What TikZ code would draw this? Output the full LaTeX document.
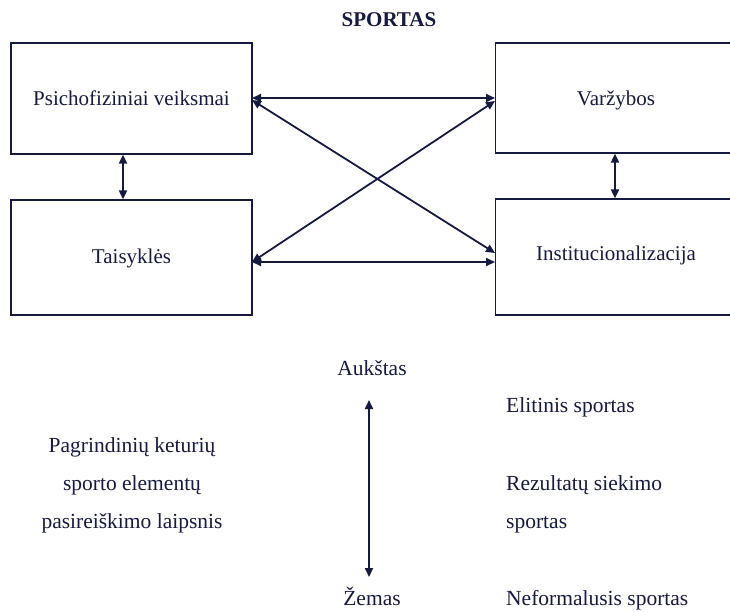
\documentclass[tikz,border=0pt]{standalone}
\usepackage{fontspec}
\IfFontExistsTF{LiberationSerif-Regular.ttf}
  {\setmainfont{LiberationSerif}[Extension=.ttf,UprightFont=*-Regular,BoldFont=*-Bold,ItalicFont=*-Italic,BoldItalicFont=*-BoldItalic]}
  {\setmainfont{Liberation Serif}}
\usetikzlibrary{arrows.meta}
\definecolor{ink}{RGB}{22,26,62}
\begin{document}
\begin{tikzpicture}[x=1pt,y=-1pt,
  box/.style={draw=ink,line width=1.2pt,minimum width=241pt,inner sep=0pt},
  lbl/.style={text=ink,font=\fontsize{21}{24}\selectfont,anchor=base,inner sep=0pt},
  lbl2/.style={text=ink,font=\fontsize{21.5}{24}\selectfont,anchor=base,inner sep=0pt},
  link/.style={draw=ink,line width=1.8pt,{Triangle[length=9pt,width=8pt]}-{Triangle[length=9pt,width=8pt]}}]
\useasboundingbox (0,0) rectangle (730,611);
\clip (0,0) rectangle (730,611);
\fill[white] (0,0) rectangle (730,611);
% boxes
\node[box,minimum height=111pt] (psi) at (131.5,98.5) {};
\node[box,minimum height=115pt] (tai) at (131.5,257.5) {};
\node[box,minimum height=110pt] (var) at (616,98) {};
\node[box,minimum height=116pt] (ins) at (616,257) {};
% texts
\node[lbl,font=\bfseries\fontsize{21}{24}\selectfont] (title) at (389,26) {SPORTAS};
\node[lbl] (tpsi) at (131.5,105) {Psichofiziniai veiksmai};
\node[lbl] (ttai) at (131.5,263) {Taisyklės};
\node[lbl] (tvar) at (616,105) {Varžybos};
\node[lbl] (tins) at (616,260) {Institucionalizacija};
% connectors
\coordinate (pE) at (252,98);
\coordinate (pE2) at (252,100);
\coordinate (tE) at (252,262);
\coordinate (vW) at (495,98);
\coordinate (vW2) at (495,101);
\coordinate (iW) at (495,262);
\coordinate (iW2) at (495,253);
\draw[link] (pE) -- (vW);
\draw[link] (tE) -- (iW);
\draw[link] (pE2) -- (iW2);
\draw[link] (tE) -- (vW2);
\draw[link] (psi.south -| 123,0) -- (tai.north -| 123,0);
\draw[link] (var.south -| 615,0) -- (ins.north -| 615,0);
% lower part
\node[lbl2] (hi) at (372,375) {Aukštas};
\node[lbl2] (lo) at (372,605) {Žemas};
\coordinate (aTop) at (369,400);
\coordinate (aBot) at (369,577);
\draw[link] (aTop) -- (aBot);
\node[lbl2] (l1) at (132,452) {Pagrindinių keturių};
\node[lbl2] (l2) at (132,490) {sporto elementų};
\node[lbl2] (l3) at (132,528) {pasireiškimo laipsnis};
\node[lbl2,anchor=base west] (r1) at (506,412) {Elitinis sportas};
\node[lbl2,anchor=base west] (r2) at (506,490) {Rezultatų siekimo};
\node[lbl2,anchor=base west] (r3) at (506,528) {sportas};
\node[lbl2,anchor=base west] (r4) at (506,605) {Neformalusis sportas};
\end{tikzpicture}
\end{document}
